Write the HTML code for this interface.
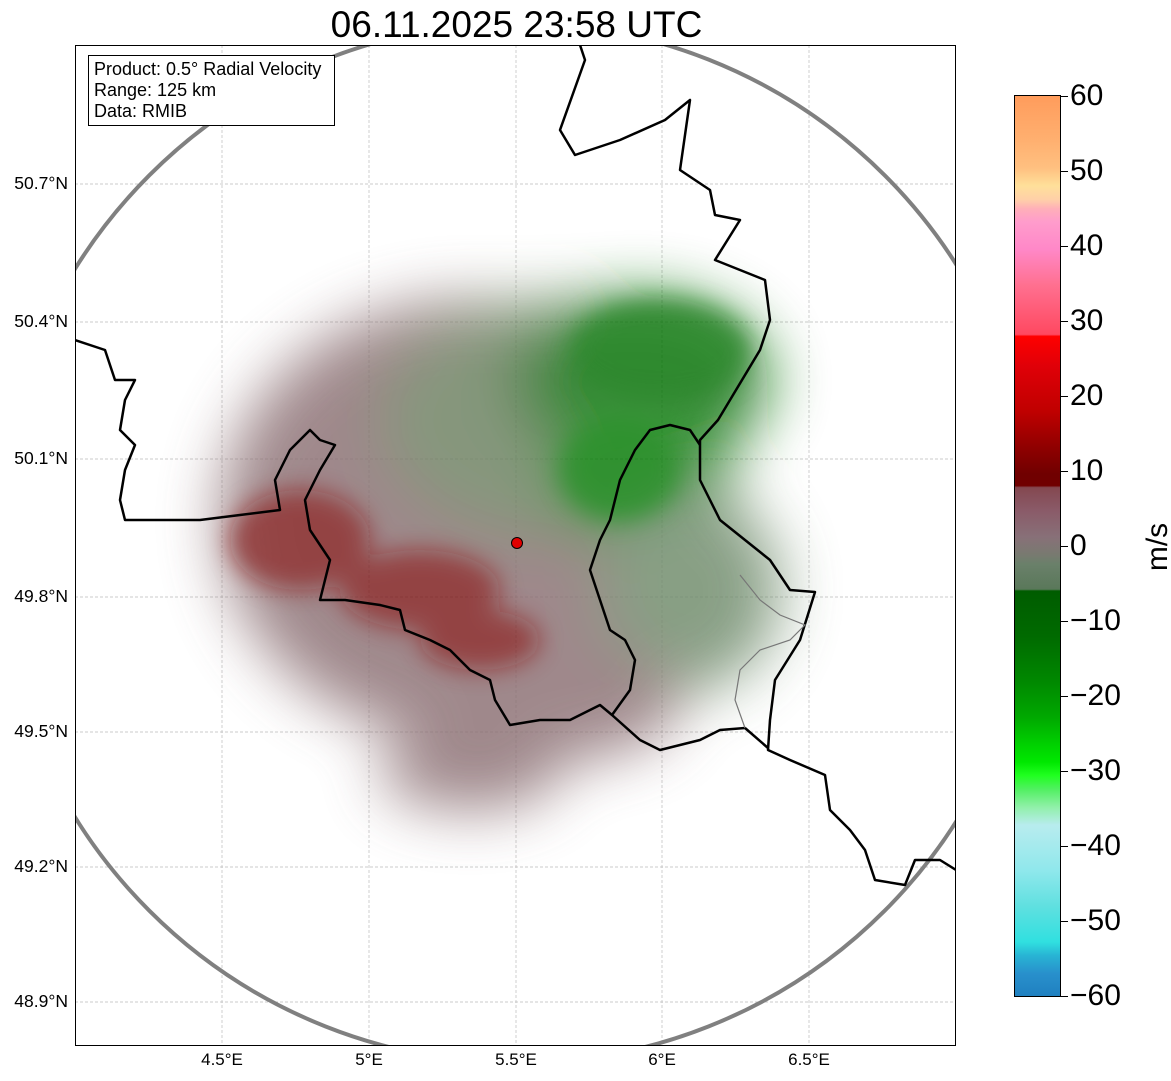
<!DOCTYPE html>
<html><head><meta charset="utf-8"><style>
body{margin:0;background:#fff;width:1171px;height:1081px;overflow:hidden;font-family:"Liberation Sans",sans-serif;position:relative}
.t{position:absolute;white-space:nowrap}
.lat{position:absolute;right:1103px;font-size:17.5px}
.lon{position:absolute;top:1050px;font-size:17px;transform:translateX(-50%)}
.cb{position:absolute;left:1014px;top:95px;width:45px;height:900px;border:1px solid #000;
background:linear-gradient(to bottom,#ff9c5c 0%,#ffb070 5%,#ffc080 8%,#ffe09a 10%,#ffd0a8 11.5%,#ffb0b8 12.5%,#ff9ccc 14%,#ff88c8 17%,#ff7090 21%,#ff4860 26.5%,#ff0000 26.7%,#e00008 30%,#c00000 35%,#900000 39%,#700000 42%,#700000 43.3%,#844850 43.5%,#8a5a68 46%,#887078 49%,#787a70 51%,#6a806a 52%,#5a785a 54.8%,#005c00 55%,#006a00 60%,#008800 65%,#00a800 69%,#00d000 72%,#00e800 74%,#20ff20 75.5%,#50f060 77%,#90f0a8 79%,#b8ecee 81%,#90e8ec 86%,#60e0e0 90%,#30e0e0 94%,#28b4d4 95.5%,#2890cc 97.5%,#2080c0 100%)}
.ct{position:absolute;left:1060px;width:8px;border-top:1px solid #000}
.cl{position:absolute;left:1070px;font-size:30px;transform:translateY(-50%)}
</style></head><body>
<div class="t" style="left:0;width:1033px;text-align:center;top:4px;font-size:37px">06.11.2025 23:58 UTC</div>
<svg style="position:absolute;left:0;top:0" width="1171" height="1081">
<defs>
<clipPath id="c"><rect x="75" y="45" width="881" height="1001"/></clipPath>
<filter id="b" x="-50%" y="-50%" width="200%" height="200%"><feGaussianBlur stdDeviation="30"/></filter>
<filter id="b2" x="-50%" y="-50%" width="200%" height="200%"><feGaussianBlur stdDeviation="12"/></filter>
</defs>
<g stroke="#bbb" stroke-width="0.7" stroke-dasharray="3,2">
<line x1="75" x2="956" y1="184" y2="184"/><line x1="75" x2="956" y1="322" y2="322"/><line x1="75" x2="956" y1="459" y2="459"/><line x1="75" x2="956" y1="597" y2="597"/><line x1="75" x2="956" y1="732" y2="732"/><line x1="75" x2="956" y1="867" y2="867"/><line x1="75" x2="956" y1="1002" y2="1002"/>
<line y1="45" y2="1046" x1="222" x2="222"/><line y1="45" y2="1046" x1="369" x2="369"/><line y1="45" y2="1046" x1="516" x2="516"/><line y1="45" y2="1046" x1="662" x2="662"/><line y1="45" y2="1046" x1="809" x2="809"/>
</g>
<g clip-path="url(#c)">
<g opacity="0.82">
<g filter="url(#b)">
<ellipse cx="470" cy="520" rx="250" ry="220" fill="#8a6e72"/>
<ellipse cx="560" cy="420" rx="180" ry="120" fill="#6c8060"/>
<ellipse cx="640" cy="380" rx="130" ry="85" fill="#107010"/>
<ellipse cx="640" cy="470" rx="90" ry="70" fill="#108010"/>
<ellipse cx="690" cy="590" rx="90" ry="100" fill="#6e8a6a"/>
<ellipse cx="560" cy="700" rx="120" ry="60" fill="#8a6e72"/>
<ellipse cx="470" cy="770" rx="90" ry="40" fill="#8a6e72"/>
</g>
<g filter="url(#b2)" opacity="0.85">
<ellipse cx="300" cy="540" rx="70" ry="50" fill="#7a1010"/>
<ellipse cx="420" cy="590" rx="80" ry="40" fill="#7a1010"/>
<ellipse cx="480" cy="640" rx="60" ry="30" fill="#7a1010"/>
<ellipse cx="660" cy="350" rx="90" ry="50" fill="#007000"/>
<ellipse cx="620" cy="470" rx="60" ry="50" fill="#007a00"/>
</g>
</g>
<circle cx="517" cy="543" r="520" fill="none" stroke="#808080" stroke-width="4"/>
<g fill="none" stroke="#000" stroke-width="2.5" stroke-linejoin="round">
<polyline points="580,45 585,60 560,130 575,155 620,140 665,120 690,100 680,170 710,190 715,215 740,220 715,260 765,280 770,320 760,350 730,400 718,420 700,440 700,480 720,520 745,540 770,560 790,590 815,592 800,640 775,680 770,720 768,750 790,760 825,775 830,810 850,830 865,850 875,880 905,885 915,860 940,860 956,870"/>
<polyline points="75,340 105,350 115,380 135,380 125,400 120,430 135,445 125,470 120,500 125,520 150,520 200,520 240,515 280,510 275,480 290,450 310,430 320,440 335,445 320,470 305,500 310,530 330,560 320,600 345,600 380,605 400,610 405,630 430,640 450,650 470,670 490,680 495,700 510,725 540,720 570,720 600,705 612,715 640,740 660,750 700,740 720,730 745,728 768,748"/>
<polyline points="612,715 630,690 635,660 625,640 610,630 600,600 590,570 600,540 610,520 620,480 635,450 650,430 670,425 690,430 700,445"/>
</g>
<g fill="none" stroke="#777" stroke-width="1.2">
<polyline points="745,728 735,700 740,670 760,650 790,640 805,625 780,615 760,600 740,575"/>
</g>
<circle cx="517" cy="543" r="5.5" fill="#e00000" stroke="#000" stroke-width="1"/>
</g>
<rect x="75.5" y="45.5" width="880" height="1000" fill="none" stroke="#000" stroke-width="1"/>
<rect x="88.5" y="55.5" width="246" height="70" fill="#fff" stroke="#000" stroke-width="1"/>
</svg>
<div class="t" style="left:94px;top:59px;font-size:18px;line-height:21px">Product: 0.5° Radial Velocity<br>Range: 125 km<br>Data: RMIB</div>
<div class="lat" style="top:173px">50.7°N</div><div class="lat" style="top:311px">50.4°N</div><div class="lat" style="top:448px">50.1°N</div><div class="lat" style="top:586px">49.8°N</div><div class="lat" style="top:721px">49.5°N</div><div class="lat" style="top:856px">49.2°N</div><div class="lat" style="top:991px">48.9°N</div>
<div class="lon" style="left:222px">4.5°E</div><div class="lon" style="left:369px">5°E</div><div class="lon" style="left:516px">5.5°E</div><div class="lon" style="left:662px">6°E</div><div class="lon" style="left:809px">6.5°E</div>
<div class="cb"></div>
<div class="ct" style="top:96px"></div><div class="ct" style="top:171px"></div><div class="ct" style="top:246px"></div><div class="ct" style="top:321px"></div><div class="ct" style="top:396px"></div><div class="ct" style="top:471px"></div><div class="ct" style="top:546px"></div><div class="ct" style="top:621px"></div><div class="ct" style="top:696px"></div><div class="ct" style="top:771px"></div><div class="ct" style="top:846px"></div><div class="ct" style="top:921px"></div><div class="ct" style="top:996px"></div>
<div class="cl" style="top:96px">60</div><div class="cl" style="top:171px">50</div><div class="cl" style="top:246px">40</div><div class="cl" style="top:321px">30</div><div class="cl" style="top:396px">20</div><div class="cl" style="top:471px">10</div><div class="cl" style="top:546px">0</div><div class="cl" style="top:621px">−10</div><div class="cl" style="top:696px">−20</div><div class="cl" style="top:771px">−30</div><div class="cl" style="top:846px">−40</div><div class="cl" style="top:921px">−50</div><div class="cl" style="top:996px">−60</div>
<div class="t" style="left:1134px;top:530px;font-size:30px;transform:rotate(-90deg);transform-origin:center">m/s</div>
</body></html>
